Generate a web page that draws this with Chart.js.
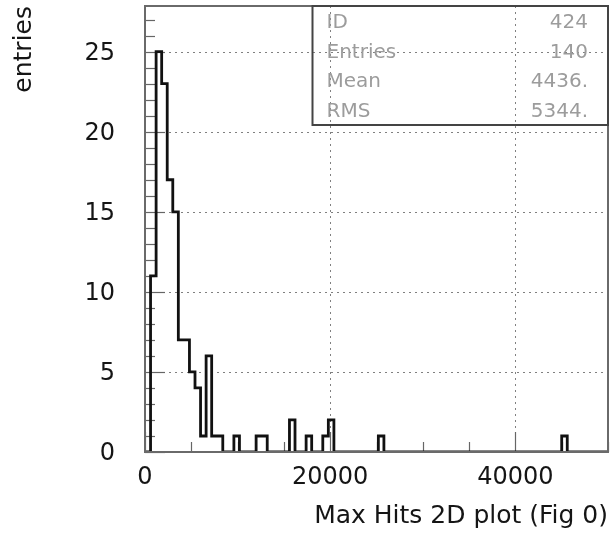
<!DOCTYPE html>
<html lang="en">
<head>
<meta charset="UTF-8">
<title>Max Hits 2D plot</title>
<script src="https://cdn.jsdelivr.net/npm/chart.js"></script>
<style>
  html, body { margin: 0; padding: 0; background: #fff; }
  #histo { display: block; }
</style>
</head>
<body>
<canvas id="histo" width="613" height="542"></canvas>
<script>
// histogram 424, bins of 600 hits, only the non-empty bins are listed
const binWidth = 600;
const binLow = [600, 1200, 1800, 2400, 3000, 3600, 4200, 4800, 5400, 6000, 6600, 7200, 7800,
                9600, 12000, 12600, 15600, 17400, 19200, 19800, 25200, 45000];
const binCounts = [11, 25, 23, 17, 15, 7, 7, 5, 4, 1, 6, 1, 1,
                   1, 1, 1, 2, 1, 1, 2, 1, 1];

const xTicks = [0, 20000, 40000];
const yTicks = [0, 5, 10, 15, 20, 25];
const xMinorStep = 5000;
const yMinorStep = 1;

const statNames = ['ID', 'Entries', 'Mean', 'RMS'];
const statValues = ['424', '140', '4436.', '5344.'];

const xMax = 50000;
const yMax = 27.85;

// full bin list -> step outline points (left edge of each bin)
const nBins = Math.ceil(xMax / binWidth);
const fullCounts = new Array(nBins).fill(0);
binLow.forEach((lo, i) => { fullCounts[Math.round(lo / binWidth)] = binCounts[i]; });
const stepPoints = fullCounts.map((c, k) => ({ x: k * binWidth, y: c }));
stepPoints.push({ x: nBins * binWidth, y: 0 });

function seg(ctx, x1, y1, x2, y2) {
  ctx.beginPath();
  ctx.moveTo(x1, y1);
  ctx.lineTo(x2, y2);
  ctx.stroke();
}

const pawFrame = {
  id: 'pawFrame',
  beforeDatasetsDraw(chart) {
    const { ctx, chartArea: a, scales: { x, y } } = chart;
    ctx.save();
    // dotted grid at the labelled ticks
    ctx.strokeStyle = '#808080';
    ctx.lineWidth = 1;
    ctx.setLineDash([2, 4]);
    yTicks.forEach(v => {
      if (v === 0) return;
      const py = Math.round(y.getPixelForValue(v)) + 0.5;
      seg(ctx, a.left, py, a.right, py);
    });
    xTicks.forEach(v => {
      if (v === 0) return;
      const px = Math.round(x.getPixelForValue(v)) + 0.5;
      seg(ctx, px, a.top, px, a.bottom);
    });
    ctx.setLineDash([]);

    // inward tick marks
    ctx.strokeStyle = '#666';
    ctx.lineWidth = 1.2;
    for (let v = 0; v <= yMax; v += yMinorStep) {
      const py = Math.round(y.getPixelForValue(v)) + 0.5;
      const len = yTicks.includes(v) ? 20 : 10;
      seg(ctx, a.left, py, a.left + len, py);
    }
    for (let v = 0; v <= xMax; v += xMinorStep) {
      const px = Math.round(x.getPixelForValue(v)) + 0.5;
      const len = xTicks.includes(v) ? 20 : 10;
      seg(ctx, px, a.bottom, px, a.bottom - len);
    }
    ctx.restore();
  },
  afterDatasetsDraw(chart) {
    const { ctx, chartArea: a } = chart;
    ctx.save();
    // plot frame
    ctx.strokeStyle = '#6a6a6a';
    ctx.lineWidth = 2;
    ctx.strokeRect(a.left, a.top, a.right - a.left, a.bottom - a.top);

    // statistics box
    const bx = 312.5, by = a.top, bw = a.right - 312.5, bh = 125 - a.top;
    ctx.strokeStyle = '#444';
    ctx.lineWidth = 2;
    ctx.strokeRect(bx, by, bw, bh);
    ctx.font = '20px "DejaVu Sans"';
    ctx.fillStyle = '#9c9c9c';
    ctx.textBaseline = 'middle';
    statNames.forEach((name, i) => {
      const ty = by + 17 + i * 29.5;
      ctx.textAlign = 'left';
      ctx.fillText(name, bx + 14, ty);
      ctx.textAlign = 'right';
      ctx.fillText(statValues[i], bx + bw - 20, ty);
    });
    ctx.restore();
  }
};

new Chart(document.getElementById('histo'), {
  type: 'line',
  data: {
    datasets: [{
      data: stepPoints,
      stepped: true,
      borderColor: '#111',
      borderWidth: 2.8,
      pointRadius: 0,
      fill: false
    }]
  },
  options: {
    responsive: false,
    animation: false,
    layout: { padding: { top: 6, right: 5, bottom: 0, left: 0 } },
    plugins: { legend: { display: false }, tooltip: { enabled: false } },
    scales: {
      x: {
        type: 'linear',
        min: 0,
        max: xMax,
        grid: { display: false, drawTicks: false },
        border: { display: false },
        afterBuildTicks: s => { s.ticks = xTicks.map(v => ({ value: v })); },
        afterFit: s => { s.height = 90; s.paddingLeft = 0; s.paddingRight = 0; },
        ticks: {
          font: { family: 'DejaVu Sans', size: 24 },
          color: '#151515',
          padding: 11,
          maxRotation: 0,
          autoSkip: false,
          callback: v => String(v)
        },
        title: {
          display: true,
          text: 'Max Hits 2D plot (Fig 0)',
          align: 'end',
          color: '#151515',
          font: { family: 'DejaVu Sans', size: 25 },
          padding: { top: 0, bottom: 11 }
        }
      },
      y: {
        min: 0,
        max: yMax,
        grid: { display: false, drawTicks: false },
        border: { display: false },
        afterBuildTicks: s => { s.ticks = yTicks.map(v => ({ value: v })); },
        afterFit: s => { s.width = 145; s.paddingTop = 0; s.paddingBottom = 0; },
        ticks: {
          font: { family: 'DejaVu Sans', size: 24 },
          color: '#151515',
          padding: 30,
          labelOffset: 2
        },
        title: {
          display: true,
          text: 'entries',
          align: 'end',
          color: '#151515',
          font: { family: 'DejaVu Sans', size: 25 },
          padding: { top: 9, bottom: 0 }
        }
      }
    }
  },
  plugins: [pawFrame]
});
</script>
</body>
</html>
